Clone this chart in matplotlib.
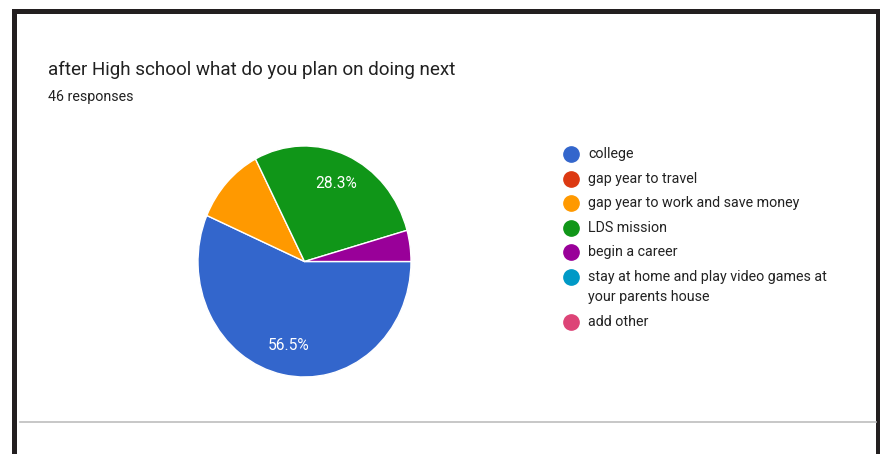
import matplotlib.pyplot as plt

# datos del grafico (46 respuestas)
labels = ['college', 'gap year to travel', 'gap year to work and save money',
          'LDS mission', 'begin a career',
          'stay at home and play video games at\nyour parents house', 'add other']
counts = [26, 0, 5, 13, 2, 0, 0]
colors = ['#3366cc', '#dc3912', '#ff9900', '#109618', '#990099', '#0099c6', '#dd4477']

title = 'after High school what do you plan on doing next'
subtitle = '46 responses'

plt.rcParams['font.family'] = ['Roboto', 'DejaVu Sans']

fig = plt.figure(figsize=(8.92, 4.54), dpi=100)
fig.patch.set_facecolor('white')

# capa de fondo en pixeles para marco, textos y leyenda
bg = fig.add_axes([0, 0, 1, 1])
bg.set_xlim(0, 892)
bg.set_ylim(454, 0)
bg.axis('off')

frame = '#231f20'
bg.add_patch(plt.Rectangle((12, 9), 868, 5, color=frame, lw=0))
bg.add_patch(plt.Rectangle((12, 9), 5, 445, color=frame, lw=0))
bg.add_patch(plt.Rectangle((876, 9), 4, 445, color=frame, lw=0))
bg.plot([20, 876], [421.5, 421.5], color='#bdbdbd', lw=1.2)

bg.text(48, 70, title, fontsize=13.6, color='#212121', va='center', ha='left')
bg.text(48, 97, subtitle, fontsize=10.3, color='#212121', va='center', ha='left')

# leyenda manual
y = 154
for lab, col in zip(labels, colors):
    bg.plot(571, y, 'o', ms=11, color=col, mec=col)
    bg.text(588, y, lab.split('\n')[0], fontsize=10.3, color='#222222', va='center')
    extra = lab.split('\n')[1:]
    for k, line in enumerate(extra):
        bg.text(588, y + 21 * (k + 1), line, fontsize=10.3, color='#222222', va='center')
    y += 24.5 + 21 * len(extra)

# pastel (solo porciones con valor)
vals = [v for v in counts if v > 0]
cols = [c for v, c in zip(counts, colors) if v > 0]

ax = fig.add_axes([198 / 892, (454 - 377) / 454, 213 / 892, 231 / 454])
wedges, texts, autotexts = ax.pie(
    vals, colors=cols, startangle=0, counterclock=False,
    autopct=lambda p: '%.1f%%' % p if p > 15 else '',
    pctdistance=0.74, radius=1,
    wedgeprops=dict(edgecolor='white', linewidth=1),
    textprops=dict(color='white', fontsize=11.2))
ax.set_aspect('auto')
ax.set_xlim(-1, 1)
ax.set_ylim(-1, 1)

fig.savefig('out.png', dpi=100)
